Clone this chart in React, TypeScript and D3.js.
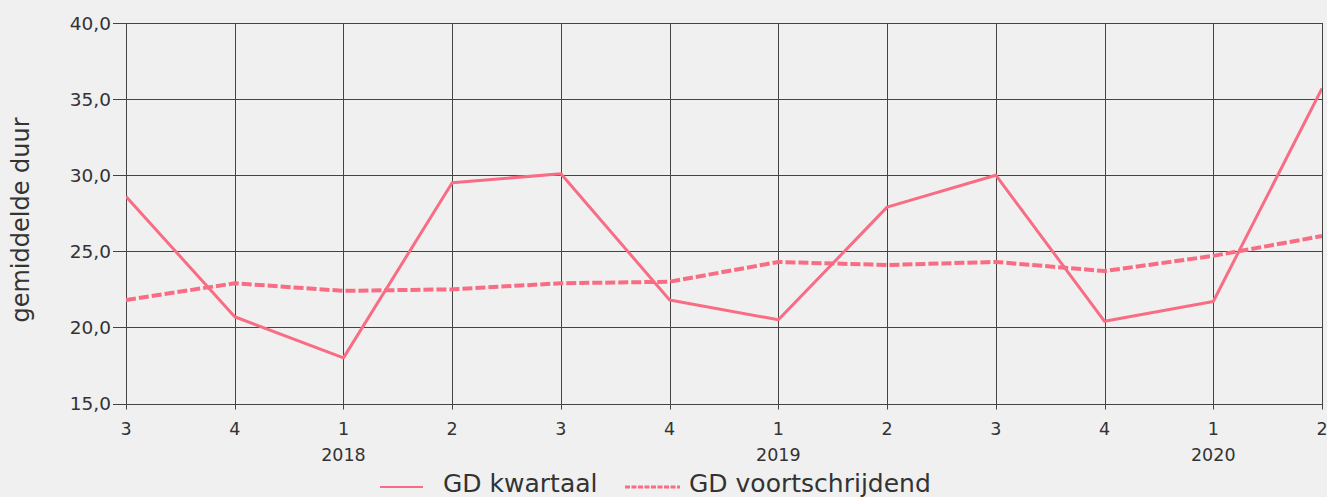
import { useEffect, useRef } from "react";
import * as d3 from "d3";

const quarters = ["3", "4", "1", "2", "3", "4", "1", "2", "3", "4", "1", "2"];
const years = [
  { index: 2, label: "2018" },
  { index: 6, label: "2019" },
  { index: 10, label: "2020" },
];
const kwartaal = [28.6, 20.7, 18.0, 29.5, 30.1, 21.8, 20.5, 27.9, 30.0, 20.4, 21.7, 35.7];
const voortschrijdend = [21.8, 22.9, 22.4, 22.5, 22.9, 23.0, 24.3, 24.1, 24.3, 23.7, 24.7, 26.0];
const yTicks = [15, 20, 25, 30, 35, 40];

const LINE = "#f86d84";
const TEXT = "#333";
const FONT = "'DejaVu Sans', sans-serif";

export default function App() {
  const ref = useRef<SVGSVGElement>(null);

  useEffect(() => {
    document.body.style.margin = "0";
    if (!ref.current) return;
    const svg = d3.select(ref.current);
    svg.selectAll("*").remove();

    const W = 1327, H = 497;
    const margin = { top: 23, right: 5, bottom: 93.5, left: 126 };
    const width = W - margin.left - margin.right;
    const height = H - margin.top - margin.bottom;

    svg.append("rect").attr("width", W).attr("height", H).attr("fill", "#f0f0f0");

    const g = svg.append("g").attr("transform", `translate(${margin.left},${margin.top})`);

    const x = d3.scaleLinear().domain([0, quarters.length - 1]).range([0, width]);
    const y = d3.scaleLinear().domain([15, 40]).range([height, 0]);

    // grid + ticks
    g.append("g")
      .selectAll("line")
      .data(yTicks)
      .enter()
      .append("line")
      .attr("x1", -13)
      .attr("x2", width)
      .attr("y1", d => Math.round(y(d)) + 0.5)
      .attr("y2", d => Math.round(y(d)) + 0.5)
      .attr("stroke", "#444")
      .attr("stroke-width", 1);

    g.append("g")
      .selectAll("line")
      .data(d3.range(quarters.length))
      .enter()
      .append("line")
      .attr("x1", d => Math.round(x(d)) + 0.5)
      .attr("x2", d => Math.round(x(d)) + 0.5)
      .attr("y1", 0)
      .attr("y2", height + 6)
      .attr("stroke", "#444")
      .attr("stroke-width", 1);

    // y tick labels
    g.append("g")
      .selectAll("text")
      .data(yTicks)
      .enter()
      .append("text")
      .attr("x", -15)
      .attr("y", d => y(d))
      .attr("dy", "0.36em")
      .attr("text-anchor", "end")
      .attr("fill", TEXT)
      .attr("font-family", FONT)
      .attr("font-size", 18.5)
      .text(d => d.toFixed(1).replace(".", ","));

    // x tick labels
    g.append("g")
      .selectAll("text")
      .data(quarters)
      .enter()
      .append("text")
      .attr("x", (_, i) => x(i))
      .attr("y", height + 31.5)
      .attr("text-anchor", "middle")
      .attr("fill", TEXT)
      .attr("font-family", FONT)
      .attr("font-size", 17.5)
      .text(d => d);

    g.append("g")
      .selectAll("text")
      .data(years)
      .enter()
      .append("text")
      .attr("x", d => x(d.index))
      .attr("y", height + 57.5)
      .attr("text-anchor", "middle")
      .attr("fill", TEXT)
      .attr("font-family", FONT)
      .attr("font-size", 17.5)
      .text(d => d.label);

    // axis title
    svg.append("text")
      .attr("transform", `translate(29,220) rotate(-90)`)
      .attr("text-anchor", "middle")
      .attr("fill", TEXT)
      .attr("font-family", FONT)
      .attr("font-size", 24)
      .text("gemiddelde duur");

    const line = d3.line<number>().x((_, i) => x(i)).y(d => y(d));

    const clip = svg.append("clipPath").attr("id", "plotclip");
    clip.append("rect").attr("x", 0).attr("y", -5).attr("width", width).attr("height", height + 10);

    const lines = g.append("g").attr("clip-path", "url(#plotclip)");
    lines.append("path")
      .datum(voortschrijdend)
      .attr("fill", "none")
      .attr("stroke", LINE)
      .attr("stroke-width", 4)
      .attr("stroke-dasharray", "10,3")
      .attr("d", line);

    lines.append("path")
      .datum(kwartaal)
      .attr("fill", "none")
      .attr("stroke", LINE)
      .attr("stroke-width", 3)
      .attr("stroke-linejoin", "round")
      .attr("d", line);

    // legend
    const lg = svg.append("g");
    lg.append("line").attr("x1", 380).attr("x2", 423).attr("y1", 487).attr("y2", 487)
      .attr("stroke", LINE).attr("stroke-width", 2);
    lg.append("text").attr("x", 443).attr("y", 492)
      .attr("fill", TEXT).attr("font-family", FONT).attr("font-size", 25)
      .text("GD kwartaal");
    lg.append("line").attr("x1", 625).attr("x2", 680).attr("y1", 487).attr("y2", 487)
      .attr("stroke", LINE).attr("stroke-width", 3).attr("stroke-dasharray", "5,1.5");
    lg.append("text").attr("x", 689).attr("y", 492)
      .attr("fill", TEXT).attr("font-family", FONT).attr("font-size", 25)
      .text("GD voortschrijdend");
  }, []);

  return (
    <svg
      ref={ref}
      width={1327}
      height={497}
      style={{ position: "absolute", left: 0, top: 0, display: "block" }}
    />
  );
}
